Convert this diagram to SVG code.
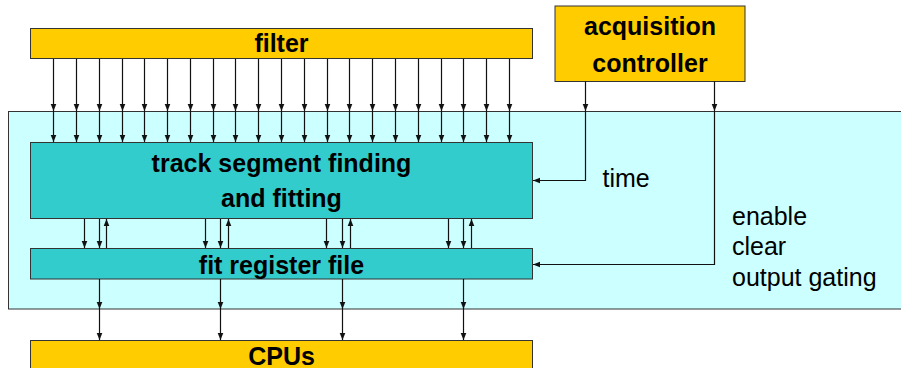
<svg xmlns="http://www.w3.org/2000/svg" width="901" height="368" viewBox="0 0 901 368">
  <style>
    .orange { fill: #ffcc00; stroke: #333; stroke-width: 1; }
    .teal { fill: #33cccc; stroke: #333; stroke-width: 1; }
    .zone { fill: #ccffff; stroke: #333; stroke-width: 1; }
    .bold { font-family: "Liberation Sans", Arial, sans-serif; font-weight: bold; font-size: 25px; fill: #000; text-anchor: middle; }
    .plain { font-family: "Liberation Sans", Arial, sans-serif; font-size: 25px; fill: #000; }
    .wire { fill: none; stroke: #111; stroke-width: 1.2; marker-end: url(#arrow); }
  </style>
  <defs>
    <marker id="arrow" markerUnits="userSpaceOnUse" markerWidth="8" markerHeight="8" viewBox="0 0 8 8" refX="7" refY="4" orient="auto">
      <path d="M0,1.2 L7,4 L0,6.8 Z" fill="#111"/>
    </marker>
  </defs>

  <!-- processing zone background -->
  <rect id="zone" class="zone" x="8.5" y="111.5" width="900" height="197.5"/>

  <g id="filter">
    <rect class="orange" x="30.5" y="28.5" width="502" height="30"/>
    <text class="bold" x="281.5" y="52">filter</text>
  </g>

  <g id="acquisition-controller">
    <rect class="orange" x="555" y="6" width="190" height="75.5"/>
    <text class="bold" x="650" y="35">acquisition</text>
    <text class="bold" x="650" y="72">controller</text>
  </g>

  <g id="track-segment">
    <rect class="teal" x="30.5" y="142.5" width="502" height="76"/>
    <text class="bold" x="281.5" y="171.5">track segment finding</text>
    <text class="bold" x="281.5" y="207">and fitting</text>
  </g>

  <g id="fit-register">
    <rect class="teal" x="30.5" y="248.5" width="502" height="30.5"/>
    <text class="bold" x="281.5" y="273.5">fit register file</text>
  </g>

  <g id="cpus">
    <rect class="orange" x="30.5" y="340.5" width="502" height="40"/>
    <text class="bold" x="281.5" y="365">CPUs</text>
  </g>

  <g id="labels">
    <text class="plain" x="602.5" y="187">time</text>
    <text class="plain" x="732" y="225">enable</text>
    <text class="plain" x="732" y="255">clear</text>
    <text class="plain" x="732" y="285.5">output gating</text>
  </g>

  <g id="connectors">
    <!-- filter outputs into track segment finding -->
    <path class="wire" d="M53.5,59 V111"/><path class="wire" d="M53.5,111 V142"/>
    <path class="wire" d="M76.5,59 V111"/><path class="wire" d="M76.5,111 V142"/>
    <path class="wire" d="M99.5,59 V111"/><path class="wire" d="M99.5,111 V142"/>
    <path class="wire" d="M122.5,59 V111"/><path class="wire" d="M122.5,111 V142"/>
    <path class="wire" d="M144.5,59 V111"/><path class="wire" d="M144.5,111 V142"/>
    <path class="wire" d="M167.5,59 V111"/><path class="wire" d="M167.5,111 V142"/>
    <path class="wire" d="M190.5,59 V111"/><path class="wire" d="M190.5,111 V142"/>
    <path class="wire" d="M213.5,59 V111"/><path class="wire" d="M213.5,111 V142"/>
    <path class="wire" d="M235.5,59 V111"/><path class="wire" d="M235.5,111 V142"/>
    <path class="wire" d="M258.5,59 V111"/><path class="wire" d="M258.5,111 V142"/>
    <path class="wire" d="M281.5,59 V111"/><path class="wire" d="M281.5,111 V142"/>
    <path class="wire" d="M304.5,59 V111"/><path class="wire" d="M304.5,111 V142"/>
    <path class="wire" d="M327.5,59 V111"/><path class="wire" d="M327.5,111 V142"/>
    <path class="wire" d="M349.5,59 V111"/><path class="wire" d="M349.5,111 V142"/>
    <path class="wire" d="M372.5,59 V111"/><path class="wire" d="M372.5,111 V142"/>
    <path class="wire" d="M395.5,59 V111"/><path class="wire" d="M395.5,111 V142"/>
    <path class="wire" d="M418.5,59 V111"/><path class="wire" d="M418.5,111 V142"/>
    <path class="wire" d="M441.5,59 V111"/><path class="wire" d="M441.5,111 V142"/>
    <path class="wire" d="M463.5,59 V111"/><path class="wire" d="M463.5,111 V142"/>
    <path class="wire" d="M486.5,59 V111"/><path class="wire" d="M486.5,111 V142"/>
    <path class="wire" d="M509.5,59 V111"/><path class="wire" d="M509.5,111 V142"/>

    <!-- controller: time -->
    <path class="wire" d="M585.5,81.5 V111"/>
    <path class="wire" d="M585.5,111 V180.5 H533"/>
    <!-- controller: enable / clear / output gating -->
    <path class="wire" d="M714.5,81.5 V111"/>
    <path class="wire" d="M714.5,111 V264.5 H533"/>

    <!-- track segment finding <-> fit register file -->
    <path class="wire" d="M84.5,219 V248"/>
    <path class="wire" d="M99.5,219 V248"/>
    <path class="wire" d="M106.5,248 V219"/>
    <path class="wire" d="M205.5,219 V248"/>
    <path class="wire" d="M220.5,219 V248"/>
    <path class="wire" d="M228.5,248 V219"/>
    <path class="wire" d="M326.5,219 V248"/>
    <path class="wire" d="M342.5,219 V248"/>
    <path class="wire" d="M350.5,248 V219"/>
    <path class="wire" d="M448.5,219 V248"/>
    <path class="wire" d="M463.5,219 V248"/>
    <path class="wire" d="M471.5,248 V219"/>

    <!-- fit register file to CPUs -->
    <path class="wire" d="M99.5,279 V309"/><path class="wire" d="M99.5,309 V340"/>
    <path class="wire" d="M220.5,279 V309"/><path class="wire" d="M220.5,309 V340"/>
    <path class="wire" d="M342.5,279 V309"/><path class="wire" d="M342.5,309 V340"/>
    <path class="wire" d="M463.5,279 V309"/><path class="wire" d="M463.5,309 V340"/>
  </g>
</svg>
